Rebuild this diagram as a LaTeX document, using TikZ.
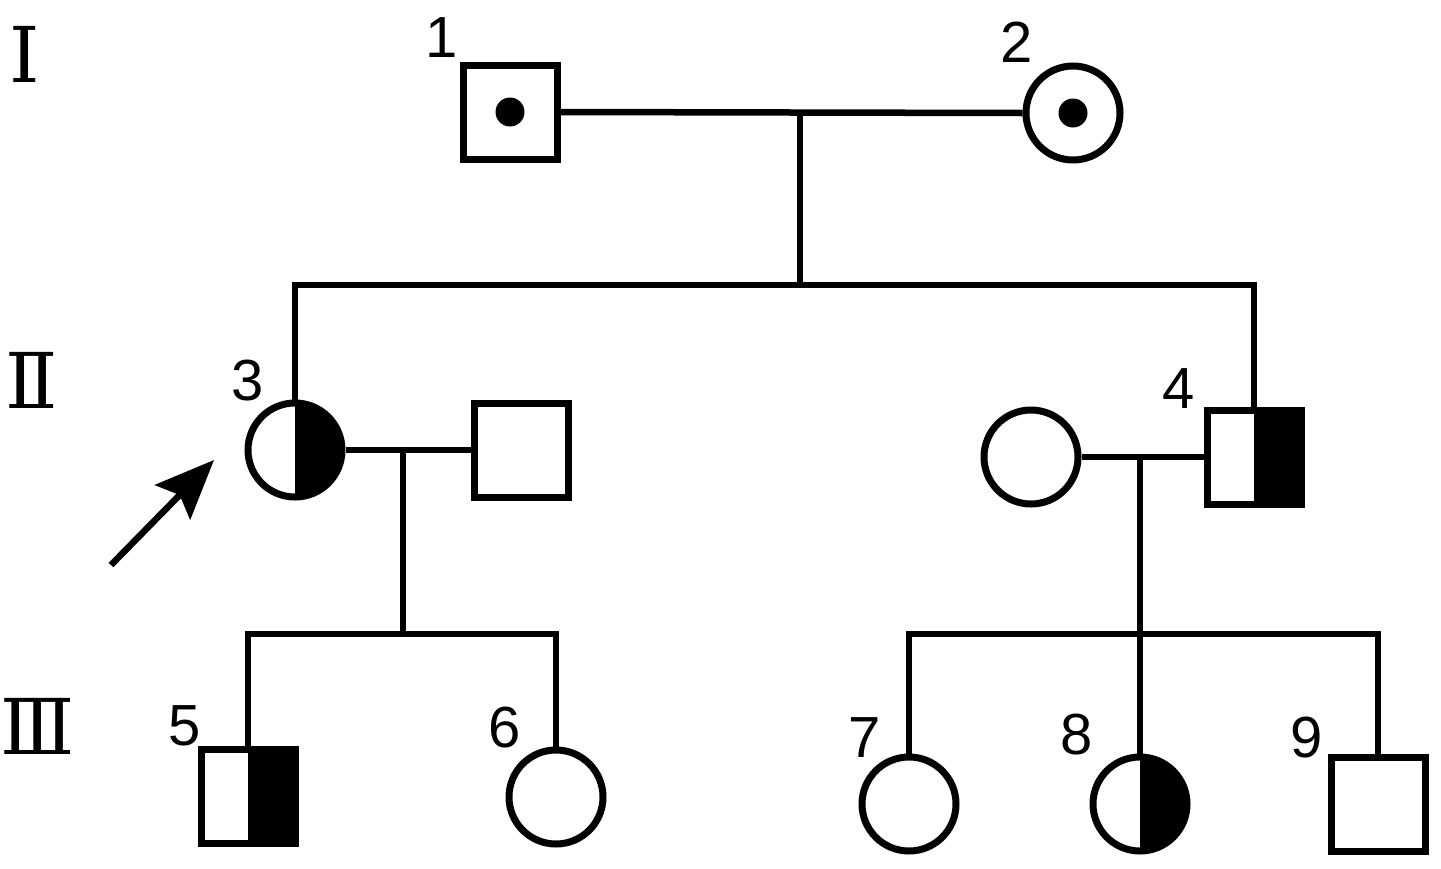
\documentclass[tikz,border=0pt]{standalone}
\usepackage{fontspec}
\setmainfont{Liberation Sans}
\newfontfamily\romfont{DejaVu Serif}
\usetikzlibrary{arrows.meta}
\begin{document}
\begin{tikzpicture}[x=1pt,y=-1pt,
  lw/.style={line width=7pt},
  male/.style={draw, lw, rectangle, minimum size=94pt, inner sep=0pt},
  female/.style={draw, lw, circle, minimum size=94pt, inner sep=0pt},
  halfaff/.style={path picture={\fill[black] (path picture bounding box.north) rectangle (path picture bounding box.south east);}},
  carrierdot/.style={path picture={\fill[black] (path picture bounding box.center) circle (14.5pt);}},
  num/.style={font=\fontsize{58}{58}\selectfont, anchor=base, inner sep=0pt},
  gen/.style={font=\romfont\fontsize{77}{77}\selectfont, anchor=base, inner sep=0pt},
  link/.style={line width=6.5pt},
  pointer/.style={line width=6.5pt, -{Stealth[length=59pt,width=49pt,inset=10pt]}}
]
\useasboundingbox (0,0) rectangle (1441,868);

% generation labels
\node[gen] (g1) at (25,82) {Ⅰ};
\node[gen] (g2) at (31.5,408) {Ⅱ};
\node[gen] (g3) at (38,754) {Ⅲ};

% generation I
\node[male, carrierdot] (n1) at (510,112) {};
\node[female, carrierdot] (n2) at (1073,113) {};

% generation II
\node[female, halfaff] (n3) at (295,450) {};
\node[male] (sp3) at (521.5,450) {};
\node[female] (sp4) at (1031,457) {};
\node[male, halfaff] (n4) at (1254,457) {};

% generation III
\node[male, halfaff] (n5) at (248,796.5) {};
\node[female] (n6) at (556,797) {};
\node[female] (n7) at (909,804) {};
\node[female, halfaff] (n8) at (1140,804) {};
\node[male] (n9) at (1378,804) {};

% numbers
\node[num] (l1) at (442,57) {1};
\node[num] (l2) at (1017,62) {2};
\node[num] (l3) at (247.5,400) {3};
\node[num] (l4) at (1179,408) {4};
\node[num] (l5) at (184.5,745) {5};
\node[num] (l6) at (504.5,747) {6};
\node[num] (l7) at (865,757) {7};
\node[num] (l8) at (1077,754) {8};
\node[num] (l9) at (1307,757) {9};

% junction coordinates
\coordinate (m1) at (800,113);
\coordinate (c1) at (800,285);
\coordinate (m3) at (403,450);
\coordinate (c3) at (403,634);
\coordinate (m4) at (1140,457);
\coordinate (c4) at (1140,634);

% connectors
\draw[link] (n1.east) -- (n2.west);
\draw[link] (m1) -- (c1);
\draw[link] (n3.north) |- (c1) -| (n4.north);

\draw[link] (n3.east) -- (sp3.west);
\draw[link] (m3) -- (c3);
\draw[link] (n5.north) |- (c3) -| (n6.north);

\draw[link] (sp4.east) -- (n4.west);
\draw[link] (m4) -- (n8.north);
\draw[link] (n7.north) |- (c4) -| (n9.north);

% proband arrow
\coordinate (atail) at (111,565);
\coordinate (atip) at (214,460);
\draw[pointer] (atail) -- (atip);
\end{tikzpicture}
\end{document}
